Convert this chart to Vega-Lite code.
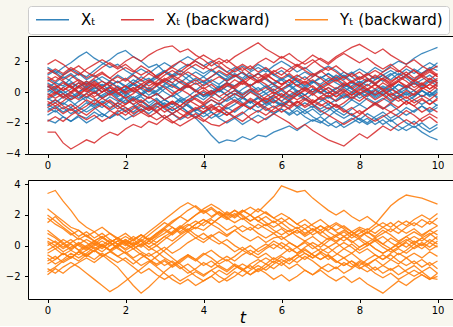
{
"$schema":"https://vega.github.io/schema/vega-lite/v6.json",
"background":"#f8f7ef",
"padding":{"left":4,"top":5,"right":0,"bottom":0},
"spacing":7,
"config":{
 "view":{"fill":"white","stroke":"black","strokeWidth":1},
 "axis":{"domain":false,"grid":false,"tickColor":"black","tickSize":3.5,"tickWidth":1,"labelFont":"DejaVu Sans","labelFontSize":10,"labelColor":"black","titleFont":"DejaVu Sans","titleColor":"black"},
 "axisX":{"labelPadding":3},
 "axisY":{"labelPadding":4.5}
},
"datasets":{
"top":[
{"s":"b1","g":"Xₜ","t":[0,0.2,0.4,0.6,0.8,1,1.2,1.4,1.6,1.8,2,2.2,2.4,2.6,2.8,3,3.2,3.4,3.6,3.8,4,4.2,4.4,4.6,4.8,5,5.2,5.4,5.6,5.8,6,6.2,6.4,6.6,6.8,7,7.2,7.4,7.6,7.8,8,8.2,8.4,8.6,8.8,9,9.2,9.4,9.6,9.8,10],"v":[1.5,1.2,1.6,1.9,2.3,2.6,2.2,1.9,1.6,1.8,1.4,1.1,0.7,0.9,0.5,0.8,0.6,0.2,0.4,0.1,-0.3,-0.1,0.3,0.6,0.4,0.8,1.1,0.7,0.9,0.5,0.2,0.5,0.1,-0.2,0.2,0.0,-0.4,-0.1,0.3,0.6,0.4,0.8,0.5,0.9,1.2,0.8,1.1,1.5,1.2,1.6,1.4]},
{"s":"b2","g":"Xₜ","t":[0,0.2,0.4,0.6,0.8,1,1.2,1.4,1.6,1.8,2,2.2,2.4,2.6,2.8,3,3.2,3.4,3.6,3.8,4,4.2,4.4,4.6,4.8,5,5.2,5.4,5.6,5.8,6,6.2,6.4,6.6,6.8,7,7.2,7.4,7.6,7.8,8,8.2,8.4,8.6,8.8,9,9.2,9.4,9.6,9.8,10],"v":[0.3,0.6,0.4,0.9,1.2,1.0,1.4,1.8,2.1,2.5,2.7,2.3,2.0,1.6,1.8,1.3,1.0,1.2,0.8,0.5,0.7,0.3,0.0,0.4,0.2,-0.2,0.1,-0.3,-0.6,-0.2,0.1,0.4,0.0,0.3,0.7,0.5,0.9,0.6,0.3,0.0,-0.4,-0.1,0.2,-0.2,0.1,0.5,0.3,0.7,0.4,0.8,0.6]},
{"s":"b3","g":"Xₜ","t":[0,0.2,0.4,0.6,0.8,1,1.2,1.4,1.6,1.8,2,2.2,2.4,2.6,2.8,3,3.2,3.4,3.6,3.8,4,4.2,4.4,4.6,4.8,5,5.2,5.4,5.6,5.8,6,6.2,6.4,6.6,6.8,7,7.2,7.4,7.6,7.8,8,8.2,8.4,8.6,8.8,9,9.2,9.4,9.6,9.8,10],"v":[-0.5,-0.2,0.1,-0.3,0.0,0.3,0.0,-0.4,-0.1,0.2,-0.2,-0.5,-0.3,-0.7,-0.4,-0.9,-1.2,-0.9,-1.3,-1.7,-2.2,-2.8,-3.3,-3.1,-3.2,-2.9,-3.1,-2.8,-2.9,-2.6,-2.4,-2.2,-2.5,-2.1,-1.8,-2.0,-1.6,-1.2,-1.5,-1.1,-0.8,-1.1,-0.7,-0.4,-0.7,-0.3,0.0,-0.3,0.1,-0.2,0.2]},
{"s":"b4","g":"Xₜ","t":[0,0.2,0.4,0.6,0.8,1,1.2,1.4,1.6,1.8,2,2.2,2.4,2.6,2.8,3,3.2,3.4,3.6,3.8,4,4.2,4.4,4.6,4.8,5,5.2,5.4,5.6,5.8,6,6.2,6.4,6.6,6.8,7,7.2,7.4,7.6,7.8,8,8.2,8.4,8.6,8.8,9,9.2,9.4,9.6,9.8,10],"v":[-0.8,-1.1,-0.7,-1.0,-0.6,-0.3,-0.6,-0.2,0.1,-0.2,0.2,0.5,0.2,0.6,0.9,0.6,0.3,0.7,0.4,0.1,-0.3,0.0,0.4,0.1,-0.2,0.2,0.5,0.1,0.4,0.0,-0.3,0.1,0.5,0.2,0.6,1.0,0.7,1.1,0.8,1.2,1.5,1.2,1.6,1.3,1.7,2.0,1.8,2.2,2.5,2.7,2.9]},
{"s":"b5","g":"Xₜ","t":[0,0.2,0.4,0.6,0.8,1,1.2,1.4,1.6,1.8,2,2.2,2.4,2.6,2.8,3,3.2,3.4,3.6,3.8,4,4.2,4.4,4.6,4.8,5,5.2,5.4,5.6,5.8,6,6.2,6.4,6.6,6.8,7,7.2,7.4,7.6,7.8,8,8.2,8.4,8.6,8.8,9,9.2,9.4,9.6,9.8,10],"v":[0.9,0.6,1.0,0.7,0.3,0.6,0.2,0.5,0.1,-0.3,0.0,-0.4,-0.1,0.3,0.0,0.4,0.1,-0.3,-0.6,-0.2,-0.5,-0.1,0.2,-0.2,0.1,-0.3,-0.7,-0.4,-0.8,-0.5,-0.9,-0.6,-1.0,-1.4,-1.1,-1.5,-1.2,-0.8,-1.1,-1.5,-1.8,-1.4,-1.7,-2.1,-1.8,-2.2,-2.5,-2.2,-2.6,-2.9,-3.1]},
{"s":"b6","g":"Xₜ","t":[0,0.2,0.4,0.6,0.8,1,1.2,1.4,1.6,1.8,2,2.2,2.4,2.6,2.8,3,3.2,3.4,3.6,3.8,4,4.2,4.4,4.6,4.8,5,5.2,5.4,5.6,5.8,6,6.2,6.4,6.6,6.8,7,7.2,7.4,7.6,7.8,8,8.2,8.4,8.6,8.8,9,9.2,9.4,9.6,9.8,10],"v":[-1.8,-2.0,-1.6,-1.9,-1.5,-1.7,-1.3,-1.6,-1.2,-0.9,-1.3,-1.0,-0.6,-0.9,-0.5,-0.8,-1.2,-0.9,-1.3,-1.6,-1.3,-1.7,-1.4,-1.0,-1.3,-0.9,-0.6,-1.0,-0.7,-0.3,-0.6,-0.2,0.1,-0.2,0.2,-0.1,0.3,0.0,-0.4,-0.1,0.3,0.0,-0.4,-0.1,-0.5,-0.2,-0.6,-0.3,0.1,-0.2,0.1]},
{"s":"b7","g":"Xₜ","t":[0,0.2,0.4,0.6,0.8,1,1.2,1.4,1.6,1.8,2,2.2,2.4,2.6,2.8,3,3.2,3.4,3.6,3.8,4,4.2,4.4,4.6,4.8,5,5.2,5.4,5.6,5.8,6,6.2,6.4,6.6,6.8,7,7.2,7.4,7.6,7.8,8,8.2,8.4,8.6,8.8,9,9.2,9.4,9.6,9.8,10],"v":[0.0,0.3,-0.1,0.2,0.6,0.3,0.7,1.0,0.7,1.1,0.8,1.2,1.5,1.2,1.6,1.9,1.6,2.0,2.3,2.0,1.7,2.0,1.6,1.3,1.6,1.2,0.9,1.2,0.8,0.5,0.8,0.4,0.7,0.3,0.0,0.3,-0.1,0.2,0.5,0.2,-0.2,0.1,-0.3,0.0,0.3,-0.1,0.2,0.6,0.3,0.7,0.4]},
{"s":"b8","g":"Xₜ","t":[0,0.2,0.4,0.6,0.8,1,1.2,1.4,1.6,1.8,2,2.2,2.4,2.6,2.8,3,3.2,3.4,3.6,3.8,4,4.2,4.4,4.6,4.8,5,5.2,5.4,5.6,5.8,6,6.2,6.4,6.6,6.8,7,7.2,7.4,7.6,7.8,8,8.2,8.4,8.6,8.8,9,9.2,9.4,9.6,9.8,10],"v":[-1.2,-0.9,-1.3,-1.0,-1.4,-1.1,-0.7,-1.0,-0.6,-0.9,-0.5,-0.8,-1.2,-0.9,-1.3,-1.7,-1.4,-1.8,-1.5,-1.1,-1.4,-1.0,-0.7,-1.1,-0.8,-0.4,-0.7,-0.3,-0.6,-1.0,-0.7,-1.1,-1.5,-1.2,-1.6,-1.9,-2.2,-1.9,-2.3,-2.0,-1.7,-2.0,-1.6,-1.3,-1.7,-1.4,-1.0,-1.3,-0.9,-1.2,-0.8]},
{"s":"b9","g":"Xₜ","t":[0,0.2,0.4,0.6,0.8,1,1.2,1.4,1.6,1.8,2,2.2,2.4,2.6,2.8,3,3.2,3.4,3.6,3.8,4,4.2,4.4,4.6,4.8,5,5.2,5.4,5.6,5.8,6,6.2,6.4,6.6,6.8,7,7.2,7.4,7.6,7.8,8,8.2,8.4,8.6,8.8,9,9.2,9.4,9.6,9.8,10],"v":[0.6,0.3,0.7,0.4,0.0,0.4,0.1,-0.3,0.0,0.4,0.1,0.5,0.2,-0.2,0.1,0.5,0.9,0.6,1.0,1.3,1.0,1.4,1.1,0.7,1.0,1.3,0.9,1.2,1.5,1.1,0.8,1.1,0.7,0.4,0.7,0.3,0.6,0.9,0.5,0.2,0.5,0.1,-0.2,0.1,-0.3,0.0,0.4,0.1,-0.3,0.0,-0.4]},
{"s":"b10","g":"Xₜ","t":[0,0.2,0.4,0.6,0.8,1,1.2,1.4,1.6,1.8,2,2.2,2.4,2.6,2.8,3,3.2,3.4,3.6,3.8,4,4.2,4.4,4.6,4.8,5,5.2,5.4,5.6,5.8,6,6.2,6.4,6.6,6.8,7,7.2,7.4,7.6,7.8,8,8.2,8.4,8.6,8.8,9,9.2,9.4,9.6,9.8,10],"v":[1.6,1.3,0.9,1.2,0.8,0.5,0.8,0.4,0.7,0.3,0.0,0.3,-0.1,-0.4,-0.1,-0.5,-0.8,-0.5,-0.9,-1.2,-0.9,-1.3,-1.6,-1.3,-1.7,-1.4,-1.0,-1.3,-0.9,-0.6,-0.9,-0.5,-0.2,-0.5,-0.1,0.2,-0.1,0.3,0.0,0.4,0.7,0.4,0.8,1.1,0.8,1.2,0.9,0.5,0.8,1.1,0.7]},
{"s":"b11","g":"Xₜ","t":[0,0.2,0.4,0.6,0.8,1,1.2,1.4,1.6,1.8,2,2.2,2.4,2.6,2.8,3,3.2,3.4,3.6,3.8,4,4.2,4.4,4.6,4.8,5,5.2,5.4,5.6,5.8,6,6.2,6.4,6.6,6.8,7,7.2,7.4,7.6,7.8,8,8.2,8.4,8.6,8.8,9,9.2,9.4,9.6,9.8,10],"v":[-0.2,0.2,-0.1,-0.5,-0.2,-0.6,-0.9,-0.6,-1.0,-0.7,-0.3,-0.6,-0.2,0.1,-0.2,0.2,0.5,0.2,0.6,0.9,0.6,1.0,1.3,1.0,1.4,1.7,1.4,1.8,1.5,1.1,1.4,1.0,0.7,1.0,0.6,0.9,1.2,0.9,1.3,1.0,0.6,0.9,0.5,0.2,0.5,0.1,-0.2,0.1,-0.3,0.0,-0.3]},
{"s":"b12","g":"Xₜ","t":[0,0.2,0.4,0.6,0.8,1,1.2,1.4,1.6,1.8,2,2.2,2.4,2.6,2.8,3,3.2,3.4,3.6,3.8,4,4.2,4.4,4.6,4.8,5,5.2,5.4,5.6,5.8,6,6.2,6.4,6.6,6.8,7,7.2,7.4,7.6,7.8,8,8.2,8.4,8.6,8.8,9,9.2,9.4,9.6,9.8,10],"v":[-1.5,-1.2,-1.6,-1.9,-1.6,-2.0,-1.7,-1.4,-1.7,-1.3,-1.0,-1.3,-0.9,-1.2,-0.8,-0.5,-0.8,-0.4,-0.7,-0.3,0.0,-0.3,0.1,-0.2,-0.6,-0.3,-0.7,-0.4,-0.1,-0.5,-0.8,-0.5,-0.9,-1.2,-0.9,-1.3,-1.0,-1.4,-1.7,-1.4,-1.8,-2.1,-1.8,-1.5,-1.9,-1.6,-2.0,-2.3,-2.0,-2.4,-2.1]},
{"s":"b13","g":"Xₜ","t":[0,0.2,0.4,0.6,0.8,1,1.2,1.4,1.6,1.8,2,2.2,2.4,2.6,2.8,3,3.2,3.4,3.6,3.8,4,4.2,4.4,4.6,4.8,5,5.2,5.4,5.6,5.8,6,6.2,6.4,6.6,6.8,7,7.2,7.4,7.6,7.8,8,8.2,8.4,8.6,8.8,9,9.2,9.4,9.6,9.8,10],"v":[0.4,0.1,-0.3,0.0,-0.4,-0.1,0.3,0.0,0.4,0.7,0.4,0.8,0.5,0.1,0.4,0.0,-0.3,0.0,0.4,0.1,0.5,0.8,0.5,0.9,1.2,0.9,1.3,1.6,1.3,1.7,2.0,1.7,1.3,1.6,1.2,0.9,1.2,0.8,1.1,0.7,0.4,0.7,1.0,0.7,1.1,1.4,1.1,0.8,1.2,1.5,1.9]},
{"s":"b14","g":"Xₜ","t":[0,0.2,0.4,0.6,0.8,1,1.2,1.4,1.6,1.8,2,2.2,2.4,2.6,2.8,3,3.2,3.4,3.6,3.8,4,4.2,4.4,4.6,4.8,5,5.2,5.4,5.6,5.8,6,6.2,6.4,6.6,6.8,7,7.2,7.4,7.6,7.8,8,8.2,8.4,8.6,8.8,9,9.2,9.4,9.6,9.8,10],"v":[-0.9,-0.5,-0.8,-0.4,-0.1,-0.4,0.0,0.3,0.0,-0.4,-0.7,-0.3,-0.6,-1.0,-0.7,-1.1,-1.4,-1.1,-0.8,-1.2,-0.9,-0.5,-0.8,-0.5,-0.1,-0.4,0.0,0.3,-0.1,0.2,-0.2,-0.5,-0.1,-0.4,-0.8,-1.1,-0.8,-1.2,-0.9,-0.5,-0.8,-0.4,-0.7,-1.1,-0.8,-1.2,-1.5,-1.2,-0.9,-1.3,-1.0]},
{"s":"b15","g":"Xₜ","t":[0,0.2,0.4,0.6,0.8,1,1.2,1.4,1.6,1.8,2,2.2,2.4,2.6,2.8,3,3.2,3.4,3.6,3.8,4,4.2,4.4,4.6,4.8,5,5.2,5.4,5.6,5.8,6,6.2,6.4,6.6,6.8,7,7.2,7.4,7.6,7.8,8,8.2,8.4,8.6,8.8,9,9.2,9.4,9.6,9.8,10],"v":[1.1,1.4,1.1,1.5,1.2,0.8,1.1,0.7,0.4,0.7,0.3,0.6,1.0,0.7,1.1,1.4,1.1,1.5,1.8,1.5,1.2,1.5,1.1,0.8,1.1,0.7,0.4,0.7,0.3,0.6,0.9,0.6,1.0,1.3,1.0,1.4,1.7,1.4,1.0,1.3,0.9,1.2,0.8,1.1,1.4,1.1,1.5,1.2,1.6,1.9,1.6]},
{"s":"b16","g":"Xₜ","t":[0,0.2,0.4,0.6,0.8,1,1.2,1.4,1.6,1.8,2,2.2,2.4,2.6,2.8,3,3.2,3.4,3.6,3.8,4,4.2,4.4,4.6,4.8,5,5.2,5.4,5.6,5.8,6,6.2,6.4,6.6,6.8,7,7.2,7.4,7.6,7.8,8,8.2,8.4,8.6,8.8,9,9.2,9.4,9.6,9.8,10],"v":[-0.4,-0.7,-0.3,-0.6,-1.0,-1.3,-1.0,-1.4,-1.7,-1.4,-1.8,-1.5,-1.1,-1.4,-1.0,-0.7,-1.0,-0.6,-0.9,-1.3,-1.6,-1.3,-1.7,-2.0,-1.7,-2.1,-1.8,-1.5,-1.8,-1.4,-1.1,-1.4,-1.0,-0.7,-1.0,-0.6,-0.3,-0.6,-0.2,-0.5,-0.1,0.2,-0.1,0.3,0.0,-0.4,-0.1,-0.5,-0.8,-0.5,-0.9]},
{"s":"b17","g":"Xₜ","t":[0,0.2,0.4,0.6,0.8,1,1.2,1.4,1.6,1.8,2,2.2,2.4,2.6,2.8,3,3.2,3.4,3.6,3.8,4,4.2,4.4,4.6,4.8,5,5.2,5.4,5.6,5.8,6,6.2,6.4,6.6,6.8,7,7.2,7.4,7.6,7.8,8,8.2,8.4,8.6,8.8,9,9.2,9.4,9.6,9.8,10],"v":[0.2,-0.1,0.3,0.6,0.3,0.7,0.4,0.0,0.3,-0.1,0.2,0.6,0.3,0.7,1.0,1.3,1.0,1.4,1.1,0.7,1.0,0.6,0.3,0.6,0.2,-0.1,0.2,-0.2,0.1,0.4,0.1,-0.3,0.0,-0.4,-0.7,-0.4,-0.8,-0.5,-0.1,-0.4,0.0,-0.3,0.1,0.4,0.1,0.5,0.2,-0.2,0.1,-0.3,0.0]},
{"s":"b18","g":"Xₜ","t":[0,0.2,0.4,0.6,0.8,1,1.2,1.4,1.6,1.8,2,2.2,2.4,2.6,2.8,3,3.2,3.4,3.6,3.8,4,4.2,4.4,4.6,4.8,5,5.2,5.4,5.6,5.8,6,6.2,6.4,6.6,6.8,7,7.2,7.4,7.6,7.8,8,8.2,8.4,8.6,8.8,9,9.2,9.4,9.6,9.8,10],"v":[-1.0,-1.3,-1.0,-1.4,-1.1,-0.7,-1.0,-0.7,-0.3,-0.6,-0.2,0.1,-0.2,0.2,-0.1,-0.5,-0.2,-0.6,-0.3,0.1,-0.2,0.1,-0.3,-0.6,-0.3,-0.7,-1.0,-0.7,-1.1,-1.4,-1.1,-1.5,-1.2,-1.6,-1.9,-1.6,-2.0,-2.3,-2.0,-1.7,-2.0,-1.7,-2.1,-1.8,-2.2,-2.5,-2.2,-1.9,-2.3,-2.6,-2.3]},
{"s":"r1","g":"Xₜ (backward)","t":[0,0.2,0.4,0.6,0.8,1,1.2,1.4,1.6,1.8,2,2.2,2.4,2.6,2.8,3,3.2,3.4,3.6,3.8,4,4.2,4.4,4.6,4.8,5,5.2,5.4,5.6,5.8,6,6.2,6.4,6.6,6.8,7,7.2,7.4,7.6,7.8,8,8.2,8.4,8.6,8.8,9,9.2,9.4,9.6,9.8,10],"v":[-2.6,-2.6,-3.3,-3.7,-3.4,-3.1,-3.3,-2.9,-2.6,-2.8,-2.4,-2.1,-2.3,-1.9,-2.1,-1.7,-1.4,-1.7,-1.3,-1.0,-1.3,-0.9,-1.2,-0.8,-0.5,-0.8,-0.4,-0.7,-0.3,0.0,-0.3,0.1,-0.2,0.2,-0.1,-0.5,-0.2,-0.6,-0.3,0.0,0.4,0.1,0.5,0.2,-0.2,0.1,0.4,0.1,0.5,0.2,0.6]},
{"s":"r2","g":"Xₜ (backward)","t":[0,0.2,0.4,0.6,0.8,1,1.2,1.4,1.6,1.8,2,2.2,2.4,2.6,2.8,3,3.2,3.4,3.6,3.8,4,4.2,4.4,4.6,4.8,5,5.2,5.4,5.6,5.8,6,6.2,6.4,6.6,6.8,7,7.2,7.4,7.6,7.8,8,8.2,8.4,8.6,8.8,9,9.2,9.4,9.6,9.8,10],"v":[1.2,1.5,1.2,1.6,1.3,0.9,1.2,1.6,1.9,1.6,2.0,2.3,2.0,2.4,2.7,2.9,3.0,2.6,2.8,2.4,2.1,1.7,2.0,1.6,1.3,1.6,1.2,0.9,1.2,0.8,0.5,0.8,0.4,0.7,0.3,0.0,0.3,-0.1,0.2,-0.2,0.1,0.5,0.2,0.6,0.3,0.7,1.0,0.7,1.1,0.8,1.2]},
{"s":"r3","g":"Xₜ (backward)","t":[0,0.2,0.4,0.6,0.8,1,1.2,1.4,1.6,1.8,2,2.2,2.4,2.6,2.8,3,3.2,3.4,3.6,3.8,4,4.2,4.4,4.6,4.8,5,5.2,5.4,5.6,5.8,6,6.2,6.4,6.6,6.8,7,7.2,7.4,7.6,7.8,8,8.2,8.4,8.6,8.8,9,9.2,9.4,9.6,9.8,10],"v":[0.5,0.2,0.6,0.3,-0.1,0.2,0.6,0.3,0.7,1.0,0.7,1.1,0.8,0.4,0.7,1.1,1.4,1.1,1.5,1.8,1.5,1.9,2.2,1.9,2.3,2.6,2.9,3.2,2.8,2.5,2.2,2.5,2.1,1.8,2.1,1.7,1.4,1.7,1.3,1.0,1.3,0.9,0.6,0.9,0.5,0.8,1.1,0.7,1.0,0.6,0.9]},
{"s":"r4","g":"Xₜ (backward)","t":[0,0.2,0.4,0.6,0.8,1,1.2,1.4,1.6,1.8,2,2.2,2.4,2.6,2.8,3,3.2,3.4,3.6,3.8,4,4.2,4.4,4.6,4.8,5,5.2,5.4,5.6,5.8,6,6.2,6.4,6.6,6.8,7,7.2,7.4,7.6,7.8,8,8.2,8.4,8.6,8.8,9,9.2,9.4,9.6,9.8,10],"v":[-0.3,0.0,-0.4,-0.1,0.3,0.0,0.4,0.7,0.4,0.1,0.4,0.0,0.3,0.7,0.4,0.8,1.1,0.8,0.5,0.8,0.4,0.7,1.0,0.7,1.1,0.8,0.4,0.7,1.0,1.4,1.1,1.5,1.8,1.5,1.9,2.2,1.9,2.3,2.6,2.9,3.1,2.8,2.5,2.8,2.4,2.1,1.8,2.1,1.7,1.4,1.7]},
{"s":"r5","g":"Xₜ (backward)","t":[0,0.2,0.4,0.6,0.8,1,1.2,1.4,1.6,1.8,2,2.2,2.4,2.6,2.8,3,3.2,3.4,3.6,3.8,4,4.2,4.4,4.6,4.8,5,5.2,5.4,5.6,5.8,6,6.2,6.4,6.6,6.8,7,7.2,7.4,7.6,7.8,8,8.2,8.4,8.6,8.8,9,9.2,9.4,9.6,9.8,10],"v":[-0.8,-0.5,-0.9,-1.2,-0.9,-0.5,-0.8,-0.4,-0.7,-1.1,-0.8,-0.4,-0.7,-0.3,-0.6,-1.0,-0.7,-1.1,-1.4,-1.1,-0.8,-1.2,-0.9,-1.3,-1.6,-1.3,-1.7,-2.0,-1.7,-1.4,-1.7,-2.0,-2.4,-2.1,-2.5,-2.8,-3.1,-3.3,-3.5,-3.1,-2.7,-3.0,-2.6,-2.2,-2.5,-2.1,-1.8,-2.1,-1.7,-1.4,-1.7]},
{"s":"r6","g":"Xₜ (backward)","t":[0,0.2,0.4,0.6,0.8,1,1.2,1.4,1.6,1.8,2,2.2,2.4,2.6,2.8,3,3.2,3.4,3.6,3.8,4,4.2,4.4,4.6,4.8,5,5.2,5.4,5.6,5.8,6,6.2,6.4,6.6,6.8,7,7.2,7.4,7.6,7.8,8,8.2,8.4,8.6,8.8,9,9.2,9.4,9.6,9.8,10],"v":[0.8,0.5,0.1,0.4,0.0,-0.3,0.0,-0.4,-0.1,-0.5,-0.8,-0.5,-0.9,-1.2,-0.9,-1.3,-1.0,-1.4,-1.7,-1.4,-1.8,-2.1,-2.2,-1.9,-1.6,-1.9,-1.5,-1.2,-1.5,-1.1,-0.8,-1.1,-0.7,-0.4,-0.7,-0.3,0.0,-0.3,0.1,-0.2,0.2,-0.1,-0.5,-0.2,-0.6,-0.3,0.1,-0.2,0.2,0.5,0.2]},
{"s":"r7","g":"Xₜ (backward)","t":[0,0.2,0.4,0.6,0.8,1,1.2,1.4,1.6,1.8,2,2.2,2.4,2.6,2.8,3,3.2,3.4,3.6,3.8,4,4.2,4.4,4.6,4.8,5,5.2,5.4,5.6,5.8,6,6.2,6.4,6.6,6.8,7,7.2,7.4,7.6,7.8,8,8.2,8.4,8.6,8.8,9,9.2,9.4,9.6,9.8,10],"v":[1.8,2.1,1.8,1.4,1.7,1.3,1.0,1.3,0.9,0.6,0.9,0.5,0.8,1.2,0.9,1.3,1.6,1.3,1.7,2.0,1.7,1.4,1.7,1.3,1.0,1.3,0.9,0.6,0.9,0.5,0.2,0.5,0.9,0.6,1.0,1.3,1.6,1.3,0.9,1.2,0.8,1.1,1.4,1.1,0.7,1.0,1.3,0.9,1.2,1.5,1.1]},
{"s":"r8","g":"Xₜ (backward)","t":[0,0.2,0.4,0.6,0.8,1,1.2,1.4,1.6,1.8,2,2.2,2.4,2.6,2.8,3,3.2,3.4,3.6,3.8,4,4.2,4.4,4.6,4.8,5,5.2,5.4,5.6,5.8,6,6.2,6.4,6.6,6.8,7,7.2,7.4,7.6,7.8,8,8.2,8.4,8.6,8.8,9,9.2,9.4,9.6,9.8,10],"v":[-1.3,-1.0,-1.4,-1.1,-1.5,-1.8,-1.5,-1.9,-1.6,-1.2,-1.5,-1.1,-0.8,-1.1,-0.7,-1.0,-1.4,-1.1,-0.7,-0.4,-0.7,-0.3,-0.6,-0.2,0.1,-0.2,0.2,-0.1,-0.5,-0.2,-0.6,-0.9,-0.6,-1.0,-0.7,-0.3,-0.6,-0.9,-1.3,-1.0,-1.4,-1.1,-0.7,-1.0,-1.3,-1.0,-0.6,-0.9,-0.5,-0.8,-0.4]},
{"s":"r9","g":"Xₜ (backward)","t":[0,0.2,0.4,0.6,0.8,1,1.2,1.4,1.6,1.8,2,2.2,2.4,2.6,2.8,3,3.2,3.4,3.6,3.8,4,4.2,4.4,4.6,4.8,5,5.2,5.4,5.6,5.8,6,6.2,6.4,6.6,6.8,7,7.2,7.4,7.6,7.8,8,8.2,8.4,8.6,8.8,9,9.2,9.4,9.6,9.8,10],"v":[0.1,0.4,0.1,0.5,0.8,0.5,0.9,1.2,0.9,1.3,1.6,1.3,1.7,1.4,1.0,1.3,1.7,2.0,1.7,2.1,2.4,2.1,1.8,2.1,1.7,1.4,1.7,1.3,1.6,1.2,0.9,1.2,0.8,0.5,0.8,0.4,0.7,1.0,0.7,0.3,0.6,0.2,0.5,0.9,0.6,1.0,0.7,0.3,0.6,0.2,0.5]},
{"s":"r10","g":"Xₜ (backward)","t":[0,0.2,0.4,0.6,0.8,1,1.2,1.4,1.6,1.8,2,2.2,2.4,2.6,2.8,3,3.2,3.4,3.6,3.8,4,4.2,4.4,4.6,4.8,5,5.2,5.4,5.6,5.8,6,6.2,6.4,6.6,6.8,7,7.2,7.4,7.6,7.8,8,8.2,8.4,8.6,8.8,9,9.2,9.4,9.6,9.8,10],"v":[-0.6,-0.9,-0.6,-0.2,-0.5,-0.1,-0.4,-0.8,-0.5,-0.9,-1.2,-0.9,-1.3,-1.6,-1.3,-1.7,-2.0,-1.7,-1.4,-1.7,-1.3,-1.0,-1.3,-0.9,-0.6,-0.9,-0.5,-0.8,-1.2,-0.9,-1.3,-1.0,-0.6,-0.9,-0.5,-0.8,-1.1,-0.8,-1.2,-1.5,-1.2,-1.6,-1.9,-1.6,-1.3,-1.6,-1.2,-1.5,-1.9,-1.6,-2.0]},
{"s":"r11","g":"Xₜ (backward)","t":[0,0.2,0.4,0.6,0.8,1,1.2,1.4,1.6,1.8,2,2.2,2.4,2.6,2.8,3,3.2,3.4,3.6,3.8,4,4.2,4.4,4.6,4.8,5,5.2,5.4,5.6,5.8,6,6.2,6.4,6.6,6.8,7,7.2,7.4,7.6,7.8,8,8.2,8.4,8.6,8.8,9,9.2,9.4,9.6,9.8,10],"v":[0.4,0.0,-0.3,0.0,0.4,0.1,-0.3,0.0,0.3,0.0,-0.4,-0.1,0.3,0.0,0.4,0.7,0.4,0.1,0.4,0.0,0.3,-0.1,0.2,0.6,0.3,0.7,1.0,0.7,1.1,0.8,0.5,0.8,0.4,0.1,0.4,0.0,-0.3,0.0,0.4,0.7,0.4,0.8,0.5,0.1,0.4,0.7,0.4,0.8,0.5,0.9,0.6]},
{"s":"r12","g":"Xₜ (backward)","t":[0,0.2,0.4,0.6,0.8,1,1.2,1.4,1.6,1.8,2,2.2,2.4,2.6,2.8,3,3.2,3.4,3.6,3.8,4,4.2,4.4,4.6,4.8,5,5.2,5.4,5.6,5.8,6,6.2,6.4,6.6,6.8,7,7.2,7.4,7.6,7.8,8,8.2,8.4,8.6,8.8,9,9.2,9.4,9.6,9.8,10],"v":[-1.9,-1.6,-1.9,-1.5,-1.2,-1.5,-1.1,-0.8,-1.1,-0.7,-1.0,-1.4,-1.1,-1.5,-1.8,-1.5,-1.9,-2.2,-1.9,-1.6,-1.9,-1.5,-1.2,-1.5,-1.1,-0.8,-1.1,-0.7,-0.4,-0.7,-0.3,-0.6,-0.2,0.1,-0.2,0.2,0.5,0.2,0.6,0.3,-0.1,0.2,-0.2,0.1,-0.3,-0.6,-0.3,-0.7,-0.4,-0.8,-0.5]},
{"s":"r13","g":"Xₜ (backward)","t":[0,0.2,0.4,0.6,0.8,1,1.2,1.4,1.6,1.8,2,2.2,2.4,2.6,2.8,3,3.2,3.4,3.6,3.8,4,4.2,4.4,4.6,4.8,5,5.2,5.4,5.6,5.8,6,6.2,6.4,6.6,6.8,7,7.2,7.4,7.6,7.8,8,8.2,8.4,8.6,8.8,9,9.2,9.4,9.6,9.8,10],"v":[1.0,0.7,1.1,1.4,1.1,1.5,1.8,2.1,1.8,1.5,1.8,1.4,1.1,1.4,1.0,0.7,1.0,0.6,0.3,0.6,0.2,0.5,0.1,0.4,0.8,0.5,0.9,1.2,0.9,1.3,1.6,1.3,1.7,1.4,1.1,1.4,1.0,0.7,1.0,0.6,0.9,1.2,0.9,1.3,1.6,1.3,1.7,1.4,1.1,1.4,1.0]},
{"s":"r14","g":"Xₜ (backward)","t":[0,0.2,0.4,0.6,0.8,1,1.2,1.4,1.6,1.8,2,2.2,2.4,2.6,2.8,3,3.2,3.4,3.6,3.8,4,4.2,4.4,4.6,4.8,5,5.2,5.4,5.6,5.8,6,6.2,6.4,6.6,6.8,7,7.2,7.4,7.6,7.8,8,8.2,8.4,8.6,8.8,9,9.2,9.4,9.6,9.8,10],"v":[-0.1,-0.4,-0.1,-0.5,-0.2,0.2,-0.1,0.3,0.6,0.3,0.0,0.3,-0.1,-0.4,-0.1,-0.5,-0.2,0.2,-0.1,-0.5,-0.8,-0.5,-0.8,-0.4,-0.1,-0.4,0.0,-0.3,-0.7,-0.4,-0.1,-0.4,0.0,0.3,0.0,0.4,0.1,-0.3,0.0,-0.4,-0.1,-0.5,-0.8,-0.5,-0.1,-0.4,-0.8,-0.5,-0.2,-0.5,-0.1]},
{"s":"r15","g":"Xₜ (backward)","t":[0,0.2,0.4,0.6,0.8,1,1.2,1.4,1.6,1.8,2,2.2,2.4,2.6,2.8,3,3.2,3.4,3.6,3.8,4,4.2,4.4,4.6,4.8,5,5.2,5.4,5.6,5.8,6,6.2,6.4,6.6,6.8,7,7.2,7.4,7.6,7.8,8,8.2,8.4,8.6,8.8,9,9.2,9.4,9.6,9.8,10],"v":[0.7,1.0,0.7,0.3,0.6,0.2,0.5,0.2,-0.2,0.1,0.4,0.1,0.5,0.8,0.5,0.9,0.6,1.0,1.3,1.0,0.7,1.0,1.4,1.1,1.5,1.8,1.5,1.9,2.2,1.9,2.3,2.0,1.7,2.0,2.4,2.1,1.8,2.2,2.5,2.2,1.9,2.2,1.8,1.5,1.8,1.4,1.1,1.4,1.0,1.3,1.0]},
{"s":"r16","g":"Xₜ (backward)","t":[0,0.2,0.4,0.6,0.8,1,1.2,1.4,1.6,1.8,2,2.2,2.4,2.6,2.8,3,3.2,3.4,3.6,3.8,4,4.2,4.4,4.6,4.8,5,5.2,5.4,5.6,5.8,6,6.2,6.4,6.6,6.8,7,7.2,7.4,7.6,7.8,8,8.2,8.4,8.6,8.8,9,9.2,9.4,9.6,9.8,10],"v":[-1.0,-0.7,-1.1,-0.8,-1.2,-0.9,-0.5,-0.8,-1.2,-1.5,-1.2,-1.6,-1.3,-1.0,-1.3,-0.9,-0.6,-0.9,-0.5,-0.8,-1.1,-0.8,-1.2,-1.5,-1.2,-0.8,-1.1,-0.7,-1.0,-1.3,-1.0,-0.6,-0.9,-0.5,-0.8,-1.2,-1.5,-1.8,-2.1,-1.8,-1.5,-1.1,-0.8,-1.1,-0.7,-1.0,-0.6,-0.9,-1.3,-1.0,-1.3]},
{"s":"r17","g":"Xₜ (backward)","t":[0,0.2,0.4,0.6,0.8,1,1.2,1.4,1.6,1.8,2,2.2,2.4,2.6,2.8,3,3.2,3.4,3.6,3.8,4,4.2,4.4,4.6,4.8,5,5.2,5.4,5.6,5.8,6,6.2,6.4,6.6,6.8,7,7.2,7.4,7.6,7.8,8,8.2,8.4,8.6,8.8,9,9.2,9.4,9.6,9.8,10],"v":[1.5,1.2,0.8,1.1,0.7,0.4,0.7,0.3,0.0,0.3,-0.1,0.2,0.5,0.2,0.6,0.3,-0.1,0.2,0.5,0.1,-0.2,0.1,-0.3,0.0,0.4,0.7,0.4,0.8,0.5,0.1,0.4,0.8,1.1,0.8,1.2,0.9,0.5,0.8,0.4,0.7,1.0,0.7,1.1,0.8,0.4,0.7,0.3,0.6,0.2,0.5,0.8]},
{"s":"r18","g":"Xₜ (backward)","t":[0,0.2,0.4,0.6,0.8,1,1.2,1.4,1.6,1.8,2,2.2,2.4,2.6,2.8,3,3.2,3.4,3.6,3.8,4,4.2,4.4,4.6,4.8,5,5.2,5.4,5.6,5.8,6,6.2,6.4,6.6,6.8,7,7.2,7.4,7.6,7.8,8,8.2,8.4,8.6,8.8,9,9.2,9.4,9.6,9.8,10],"v":[-0.4,-0.1,0.3,0.0,0.4,0.7,0.4,0.0,0.3,-0.1,-0.4,-0.8,-0.5,-0.9,-1.2,-0.9,-0.6,-0.9,-0.5,-0.2,0.1,-0.2,0.2,0.5,0.2,0.6,0.3,0.0,0.3,-0.1,0.2,-0.2,-0.5,-0.2,-0.6,-0.9,-0.6,-1.0,-0.7,-0.3,-0.6,-0.2,0.1,-0.2,0.2,-0.1,-0.4,-0.1,0.3,0.0,0.4]}
],
"bot":[
{"s":"o1","g":"Yₜ (backward)","t":[0,0.2,0.4,0.6,0.8,1,1.2,1.4,1.6,1.8,2,2.2,2.4,2.6,2.8,3,3.2,3.4,3.6,3.8,4,4.2,4.4,4.6,4.8,5,5.2,5.4,5.6,5.8,6,6.2,6.4,6.6,6.8,7,7.2,7.4,7.6,7.8,8,8.2,8.4,8.6,8.8,9,9.2,9.4,9.6,9.8,10],"v":[3.4,3.6,2.9,2.3,1.6,1.2,0.9,1.2,0.8,0.5,0.8,0.4,0.7,0.3,0.6,1.0,0.7,1.1,1.4,1.1,1.5,1.8,2.2,1.9,2.3,2.0,1.6,1.9,1.5,1.2,1.5,1.1,0.8,1.1,0.7,1.0,0.6,0.3,0.6,0.2,0.5,0.9,0.6,1.0,0.7,0.3,0.6,0.2,0.5,0.8,0.4]},
{"s":"o2","g":"Yₜ (backward)","t":[0,0.2,0.4,0.6,0.8,1,1.2,1.4,1.6,1.8,2,2.2,2.4,2.6,2.8,3,3.2,3.4,3.6,3.8,4,4.2,4.4,4.6,4.8,5,5.2,5.4,5.6,5.8,6,6.2,6.4,6.6,6.8,7,7.2,7.4,7.6,7.8,8,8.2,8.4,8.6,8.8,9,9.2,9.4,9.6,9.8,10],"v":[2.4,2.0,1.6,1.2,1.0,0.6,0.9,0.5,0.8,0.4,0.1,0.4,0.0,0.3,0.7,1.1,1.5,1.9,2.3,2.6,2.2,2.5,2.1,1.8,2.1,1.7,2.0,1.6,1.3,1.6,1.2,0.9,1.2,0.8,1.1,0.7,0.4,0.7,1.0,0.7,1.1,0.8,1.2,1.5,1.2,1.6,1.3,1.7,2.0,1.7,2.1]},
{"s":"o3","g":"Yₜ (backward)","t":[0,0.2,0.4,0.6,0.8,1,1.2,1.4,1.6,1.8,2,2.2,2.4,2.6,2.8,3,3.2,3.4,3.6,3.8,4,4.2,4.4,4.6,4.8,5,5.2,5.4,5.6,5.8,6,6.2,6.4,6.6,6.8,7,7.2,7.4,7.6,7.8,8,8.2,8.4,8.6,8.8,9,9.2,9.4,9.6,9.8,10],"v":[1.8,1.4,1.1,0.7,1.0,0.6,0.3,0.6,0.2,0.5,0.2,-0.2,0.1,0.5,0.2,0.6,0.9,1.3,1.0,1.4,1.7,1.4,1.8,2.1,1.8,2.2,2.5,2.2,2.7,3.2,3.9,3.7,3.5,3.6,3.1,2.7,2.3,2.0,2.3,1.9,1.6,1.9,1.5,1.2,1.5,1.1,0.8,1.1,0.7,1.0,0.7]},
{"s":"o4","g":"Yₜ (backward)","t":[0,0.2,0.4,0.6,0.8,1,1.2,1.4,1.6,1.8,2,2.2,2.4,2.6,2.8,3,3.2,3.4,3.6,3.8,4,4.2,4.4,4.6,4.8,5,5.2,5.4,5.6,5.8,6,6.2,6.4,6.6,6.8,7,7.2,7.4,7.6,7.8,8,8.2,8.4,8.6,8.8,9,9.2,9.4,9.6,9.8,10],"v":[0.5,0.2,-0.2,0.1,-0.3,0.0,0.3,0.0,0.4,0.1,-0.3,0.0,0.4,0.1,0.5,0.8,1.2,0.9,1.3,1.6,1.3,1.7,1.4,1.0,1.3,0.9,1.2,0.8,0.5,0.8,0.4,0.7,1.0,0.7,1.1,0.8,1.2,1.5,1.2,0.9,1.2,1.0,1.4,2.0,2.6,3.0,3.3,3.2,3.1,2.9,2.7]},
{"s":"o5","g":"Yₜ (backward)","t":[0,0.2,0.4,0.6,0.8,1,1.2,1.4,1.6,1.8,2,2.2,2.4,2.6,2.8,3,3.2,3.4,3.6,3.8,4,4.2,4.4,4.6,4.8,5,5.2,5.4,5.6,5.8,6,6.2,6.4,6.6,6.8,7,7.2,7.4,7.6,7.8,8,8.2,8.4,8.6,8.8,9,9.2,9.4,9.6,9.8,10],"v":[-0.6,-0.9,-0.5,-0.8,-0.4,-0.1,-0.4,0.0,-0.3,-0.7,-0.4,-0.8,-0.5,-0.9,-1.2,-0.9,-1.3,-1.0,-0.6,-0.9,-1.3,-1.0,-1.4,-1.7,-1.3,-1.6,-1.2,-0.9,-1.2,-0.8,-1.1,-1.5,-1.2,-1.6,-1.9,-1.6,-2.0,-2.3,-2.0,-2.4,-2.1,-2.5,-2.8,-3.1,-2.7,-2.3,-2.6,-2.2,-1.9,-2.2,-1.8]},
{"s":"o6","g":"Yₜ (backward)","t":[0,0.2,0.4,0.6,0.8,1,1.2,1.4,1.6,1.8,2,2.2,2.4,2.6,2.8,3,3.2,3.4,3.6,3.8,4,4.2,4.4,4.6,4.8,5,5.2,5.4,5.6,5.8,6,6.2,6.4,6.6,6.8,7,7.2,7.4,7.6,7.8,8,8.2,8.4,8.6,8.8,9,9.2,9.4,9.6,9.8,10],"v":[-1.5,-1.8,-1.4,-1.1,-1.4,-1.8,-2.2,-2.6,-3.0,-2.7,-2.3,-1.9,-1.5,-1.1,-0.7,-0.3,0.1,0.5,0.9,1.2,1.0,1.4,1.1,0.7,1.0,0.6,0.3,0.6,0.2,0.5,0.6,0.2,-0.1,0.2,-0.2,0.1,0.5,0.2,0.6,0.3,-0.1,0.2,-0.2,-0.5,-0.2,-0.6,-0.3,0.1,-0.2,0.2,-0.1]},
{"s":"o7","g":"Yₜ (backward)","t":[0,0.2,0.4,0.6,0.8,1,1.2,1.4,1.6,1.8,2,2.2,2.4,2.6,2.8,3,3.2,3.4,3.6,3.8,4,4.2,4.4,4.6,4.8,5,5.2,5.4,5.6,5.8,6,6.2,6.4,6.6,6.8,7,7.2,7.4,7.6,7.8,8,8.2,8.4,8.6,8.8,9,9.2,9.4,9.6,9.8,10],"v":[-1.0,-0.7,-1.1,-0.8,-0.4,-0.7,-0.3,-0.6,-1.0,-1.4,-2.0,-2.6,-3.1,-2.7,-2.2,-1.7,-1.3,-0.9,-0.6,-0.9,-0.5,-0.8,-1.2,-0.9,-1.3,-1.6,-1.3,-1.7,-1.4,-1.0,-1.3,-0.9,-0.6,-0.9,-0.5,-0.2,-0.5,-0.1,0.2,-0.1,-0.5,-0.2,-0.6,-0.9,-0.6,-1.0,-1.3,-1.0,-1.4,-1.1,-1.5]},
{"s":"o8","g":"Yₜ (backward)","t":[0,0.2,0.4,0.6,0.8,1,1.2,1.4,1.6,1.8,2,2.2,2.4,2.6,2.8,3,3.2,3.4,3.6,3.8,4,4.2,4.4,4.6,4.8,5,5.2,5.4,5.6,5.8,6,6.2,6.4,6.6,6.8,7,7.2,7.4,7.6,7.8,8,8.2,8.4,8.6,8.8,9,9.2,9.4,9.6,9.8,10],"v":[0.0,0.3,-0.1,0.2,0.5,0.2,-0.2,0.1,-0.3,0.0,0.4,0.1,0.5,0.9,1.3,1.7,2.1,2.5,2.8,2.5,2.1,2.4,2.0,1.7,2.0,2.3,2.0,2.4,2.1,1.8,2.1,1.8,1.4,1.7,1.3,1.0,1.3,0.9,0.6,0.9,0.5,0.2,0.5,0.1,-0.2,0.1,0.4,0.1,0.5,0.2,0.6]},
{"s":"o9","g":"Yₜ (backward)","t":[0,0.2,0.4,0.6,0.8,1,1.2,1.4,1.6,1.8,2,2.2,2.4,2.6,2.8,3,3.2,3.4,3.6,3.8,4,4.2,4.4,4.6,4.8,5,5.2,5.4,5.6,5.8,6,6.2,6.4,6.6,6.8,7,7.2,7.4,7.6,7.8,8,8.2,8.4,8.6,8.8,9,9.2,9.4,9.6,9.8,10],"v":[-1.9,-1.5,-1.8,-1.4,-1.1,-0.8,-1.1,-0.7,-0.4,-0.7,-1.0,-1.4,-1.8,-1.5,-1.9,-2.2,-1.9,-2.3,-2.0,-1.7,-2.0,-1.6,-1.3,-1.6,-1.2,-1.5,-1.9,-1.6,-1.2,-1.5,-1.1,-0.8,-1.1,-0.7,-1.0,-1.4,-1.7,-1.4,-1.8,-1.5,-1.1,-1.4,-1.8,-2.1,-1.8,-2.2,-1.9,-1.6,-1.9,-2.2,-2.0]},
{"s":"o10","g":"Yₜ (backward)","t":[0,0.2,0.4,0.6,0.8,1,1.2,1.4,1.6,1.8,2,2.2,2.4,2.6,2.8,3,3.2,3.4,3.6,3.8,4,4.2,4.4,4.6,4.8,5,5.2,5.4,5.6,5.8,6,6.2,6.4,6.6,6.8,7,7.2,7.4,7.6,7.8,8,8.2,8.4,8.6,8.8,9,9.2,9.4,9.6,9.8,10],"v":[1.0,0.6,0.2,-0.2,0.1,-0.2,0.2,-0.1,0.2,0.5,0.2,0.6,0.3,-0.1,0.2,0.6,0.3,0.7,1.0,1.4,1.7,1.4,1.8,2.2,1.9,2.3,2.0,1.6,1.9,1.5,1.8,1.4,1.1,1.4,1.0,1.3,0.9,0.6,0.9,0.5,0.8,1.1,0.8,1.2,0.9,1.3,1.6,1.3,1.7,1.4,1.8]},
{"s":"o11","g":"Yₜ (backward)","t":[0,0.2,0.4,0.6,0.8,1,1.2,1.4,1.6,1.8,2,2.2,2.4,2.6,2.8,3,3.2,3.4,3.6,3.8,4,4.2,4.4,4.6,4.8,5,5.2,5.4,5.6,5.8,6,6.2,6.4,6.6,6.8,7,7.2,7.4,7.6,7.8,8,8.2,8.4,8.6,8.8,9,9.2,9.4,9.6,9.8,10],"v":[-0.3,0.0,-0.4,-0.1,0.2,-0.1,0.3,0.0,-0.3,0.0,0.3,0.0,-0.4,-0.7,-0.4,-0.8,-1.1,-1.5,-1.2,-1.6,-1.9,-1.6,-2.0,-2.3,-2.0,-1.6,-1.9,-1.5,-1.8,-2.2,-1.9,-2.3,-2.0,-1.6,-1.9,-1.5,-1.2,-1.5,-1.1,-1.4,-1.0,-1.3,-0.9,-0.6,-0.9,-0.5,-0.8,-1.2,-0.9,-1.3,-1.0]},
{"s":"o12","g":"Yₜ (backward)","t":[0,0.2,0.4,0.6,0.8,1,1.2,1.4,1.6,1.8,2,2.2,2.4,2.6,2.8,3,3.2,3.4,3.6,3.8,4,4.2,4.4,4.6,4.8,5,5.2,5.4,5.6,5.8,6,6.2,6.4,6.6,6.8,7,7.2,7.4,7.6,7.8,8,8.2,8.4,8.6,8.8,9,9.2,9.4,9.6,9.8,10],"v":[0.8,0.5,0.1,0.4,0.0,-0.3,0.0,0.3,0.0,0.3,0.6,0.3,0.7,0.4,0.8,1.1,0.8,1.2,0.9,0.5,0.8,0.4,0.1,0.4,0.0,-0.3,0.0,-0.4,-0.1,0.3,0.0,-0.4,-0.1,-0.5,-0.8,-0.5,-0.9,-0.6,-0.2,-0.5,-0.1,0.2,-0.2,-0.5,-0.2,0.2,-0.1,0.3,0.0,0.4,0.1]},
{"s":"o13","g":"Yₜ (backward)","t":[0,0.2,0.4,0.6,0.8,1,1.2,1.4,1.6,1.8,2,2.2,2.4,2.6,2.8,3,3.2,3.4,3.6,3.8,4,4.2,4.4,4.6,4.8,5,5.2,5.4,5.6,5.8,6,6.2,6.4,6.6,6.8,7,7.2,7.4,7.6,7.8,8,8.2,8.4,8.6,8.8,9,9.2,9.4,9.6,9.8,10],"v":[-1.2,-0.9,-0.5,-0.8,-0.4,-0.7,-0.3,0.0,-0.3,0.1,-0.2,0.2,-0.1,0.3,0.0,-0.4,-0.8,-1.2,-1.6,-2.0,-2.3,-2.0,-2.4,-2.1,-1.7,-2.0,-1.6,-1.3,-1.6,-1.2,-0.9,-1.2,-0.8,-0.5,-0.8,-0.4,-0.7,-1.1,-0.8,-1.2,-1.5,-1.2,-1.6,-1.3,-0.9,-1.2,-0.8,-0.5,-0.8,-0.4,-0.7]},
{"s":"o14","g":"Yₜ (backward)","t":[0,0.2,0.4,0.6,0.8,1,1.2,1.4,1.6,1.8,2,2.2,2.4,2.6,2.8,3,3.2,3.4,3.6,3.8,4,4.2,4.4,4.6,4.8,5,5.2,5.4,5.6,5.8,6,6.2,6.4,6.6,6.8,7,7.2,7.4,7.6,7.8,8,8.2,8.4,8.6,8.8,9,9.2,9.4,9.6,9.8,10],"v":[1.5,1.9,1.4,1.0,0.6,0.9,0.5,0.8,0.4,0.1,0.4,0.0,0.3,-0.1,-0.4,-0.1,-0.5,-0.2,0.2,0.5,0.2,0.6,0.9,0.6,1.0,1.3,1.0,1.4,1.1,0.8,1.1,0.7,1.0,0.6,0.9,1.3,1.0,1.4,1.1,0.7,1.0,0.6,0.3,0.6,0.2,-0.1,0.2,-0.2,0.1,-0.3,0.0]},
{"s":"o15","g":"Yₜ (backward)","t":[0,0.2,0.4,0.6,0.8,1,1.2,1.4,1.6,1.8,2,2.2,2.4,2.6,2.8,3,3.2,3.4,3.6,3.8,4,4.2,4.4,4.6,4.8,5,5.2,5.4,5.6,5.8,6,6.2,6.4,6.6,6.8,7,7.2,7.4,7.6,7.8,8,8.2,8.4,8.6,8.8,9,9.2,9.4,9.6,9.8,10],"v":[-0.8,-1.2,-0.9,-0.5,-0.8,-0.5,-0.1,-0.4,0.0,0.3,0.0,0.4,0.7,0.4,0.8,1.2,1.6,1.9,1.6,2.0,2.3,1.9,2.2,1.8,1.5,1.8,1.4,1.1,1.4,1.0,0.7,1.0,0.6,0.3,0.6,0.2,-0.1,0.2,-0.2,0.1,-0.3,0.0,0.4,0.1,0.5,0.2,0.6,0.9,0.6,1.0,1.3]},
{"s":"o16","g":"Yₜ (backward)","t":[0,0.2,0.4,0.6,0.8,1,1.2,1.4,1.6,1.8,2,2.2,2.4,2.6,2.8,3,3.2,3.4,3.6,3.8,4,4.2,4.4,4.6,4.8,5,5.2,5.4,5.6,5.8,6,6.2,6.4,6.6,6.8,7,7.2,7.4,7.6,7.8,8,8.2,8.4,8.6,8.8,9,9.2,9.4,9.6,9.8,10],"v":[0.3,0.0,0.4,0.1,-0.3,-0.6,-0.3,-0.7,-0.4,-0.1,-0.5,-0.2,-0.6,-0.9,-1.3,-1.0,-1.4,-1.1,-0.7,-1.0,-0.6,-0.3,-0.7,-1.0,-0.7,-0.3,-0.6,-0.2,0.1,-0.2,0.2,-0.1,-0.5,-0.2,-0.6,-0.9,-0.6,-1.0,-1.3,-1.0,-1.4,-1.7,-1.4,-1.8,-1.5,-1.9,-1.6,-1.3,-1.7,-1.4,-1.8]},
{"s":"o17","g":"Yₜ (backward)","t":[0,0.2,0.4,0.6,0.8,1,1.2,1.4,1.6,1.8,2,2.2,2.4,2.6,2.8,3,3.2,3.4,3.6,3.8,4,4.2,4.4,4.6,4.8,5,5.2,5.4,5.6,5.8,6,6.2,6.4,6.6,6.8,7,7.2,7.4,7.6,7.8,8,8.2,8.4,8.6,8.8,9,9.2,9.4,9.6,9.8,10],"v":[2.0,1.6,1.2,0.8,0.4,0.7,0.3,0.6,0.2,0.5,0.1,-0.2,0.1,-0.3,0.0,0.4,0.8,1.2,1.6,2.0,2.4,2.7,2.4,2.0,2.3,1.9,1.6,1.9,2.2,1.8,1.5,1.8,1.4,1.1,1.4,1.7,1.3,1.0,1.3,0.9,0.6,0.9,0.5,0.8,1.1,0.8,1.2,1.5,1.2,1.6,1.3]},
{"s":"o18","g":"Yₜ (backward)","t":[0,0.2,0.4,0.6,0.8,1,1.2,1.4,1.6,1.8,2,2.2,2.4,2.6,2.8,3,3.2,3.4,3.6,3.8,4,4.2,4.4,4.6,4.8,5,5.2,5.4,5.6,5.8,6,6.2,6.4,6.6,6.8,7,7.2,7.4,7.6,7.8,8,8.2,8.4,8.6,8.8,9,9.2,9.4,9.6,9.8,10],"v":[-1.7,-1.4,-1.0,-0.7,-1.0,-0.6,-0.9,-0.5,-0.8,-1.1,-0.8,-1.2,-0.8,-0.5,-0.9,-1.3,-1.0,-1.4,-1.8,-1.5,-1.1,-1.4,-1.0,-0.7,-1.0,-0.6,-0.3,-0.6,-0.2,0.1,-0.2,0.2,-0.1,0.3,0.0,-0.4,-0.1,-0.5,-0.8,-0.5,-0.9,-1.2,-0.9,-1.3,-1.6,-1.3,-1.7,-2.0,-1.7,-2.1,-2.2]},
{"s":"o19","g":"Yₜ (backward)","t":[0,0.2,0.4,0.6,0.8,1,1.2,1.4,1.6,1.8,2,2.2,2.4,2.6,2.8,3,3.2,3.4,3.6,3.8,4,4.2,4.4,4.6,4.8,5,5.2,5.4,5.6,5.8,6,6.2,6.4,6.6,6.8,7,7.2,7.4,7.6,7.8,8,8.2,8.4,8.6,8.8,9,9.2,9.4,9.6,9.8,10],"v":[0.2,-0.2,0.1,-0.3,-0.6,-0.3,0.1,-0.2,0.2,-0.1,0.3,0.0,0.3,0.7,1.1,1.5,1.2,0.8,1.1,0.7,0.4,0.7,0.3,0.0,-0.4,-0.1,-0.5,-0.8,-0.5,-0.9,-0.6,-0.2,-0.5,-0.1,0.2,-0.1,0.3,0.6,0.3,0.7,0.4,0.0,0.3,-0.1,-0.4,-0.1,0.3,0.6,0.3,0.7,1.0]},
{"s":"o20","g":"Yₜ (backward)","t":[0,0.2,0.4,0.6,0.8,1,1.2,1.4,1.6,1.8,2,2.2,2.4,2.6,2.8,3,3.2,3.4,3.6,3.8,4,4.2,4.4,4.6,4.8,5,5.2,5.4,5.6,5.8,6,6.2,6.4,6.6,6.8,7,7.2,7.4,7.6,7.8,8,8.2,8.4,8.6,8.8,9,9.2,9.4,9.6,9.8,10],"v":[-0.5,-0.2,-0.6,-0.3,0.1,0.4,0.1,0.5,0.2,-0.2,-0.5,-0.9,-1.3,-1.0,-1.4,-1.8,-2.2,-2.5,-2.2,-2.6,-2.3,-2.0,-1.6,-1.9,-1.5,-1.2,-1.5,-1.1,-0.8,-1.1,-0.7,-1.0,-0.6,-0.3,-0.6,-0.9,-0.6,-1.0,-1.3,-1.0,-1.3,-0.9,-0.6,-0.9,-0.5,-0.2,-0.5,-0.1,0.2,-0.1,0.3]}
]
},
"vconcat":[
{
 "width":429,"height":118,
 "data":{"name":"top"},
 "transform":[{"flatten":["t","v"]}],
 "encoding":{
  "x":{"field":"t","type":"quantitative","scale":{"domain":[-0.5,10.5],"nice":false,"zero":false},"axis":{"values":[0,2,4,6,8,10],"title":null}},
  "y":{"field":"v","type":"quantitative","scale":{"domain":[-4.02,3.64],"nice":false,"zero":false},"axis":{"values":[-4,-2,0,2],"title":null}},
  "color":{"field":"g","type":"nominal","scale":{"domain":["Xₜ","Xₜ (backward)","Yₜ (backward)"],"range":["#1f77b4","#d62728","#ff7f0e"]},
   "legend":{"orient":"none","legendX":0,"legendY":-30,"direction":"horizontal","columns":3,"title":null,"symbolType":"M-1,0H5","symbolSize":121,"symbolStrokeWidth":1.6,"symbolOpacity":1,"labelFont":"DejaVu Sans","labelFontSize":15,"labelColor":"black","labelOffset":32,"columnPadding":21,"padding":6,"fillColor":"white","strokeColor":"#cccccc","cornerRadius":3}},
  "detail":{"field":"s","type":"nominal"}
 },
 "layer":[
  {"transform":[{"filter":"datum.g == 'Xₜ'"}],"mark":{"type":"line","strokeWidth":1.3,"opacity":0.85,"clip":true}},
  {"transform":[{"filter":"datum.g != 'Xₜ'"}],"mark":{"type":"line","strokeWidth":1.3,"opacity":0.85,"clip":true}}
 ]
},
{
 "width":429,"height":119,
 "data":{"name":"bot"},
 "transform":[{"flatten":["t","v"]}],
 "mark":{"type":"line","strokeWidth":1.3,"opacity":0.9,"clip":true},
 "encoding":{
  "x":{"field":"t","type":"quantitative","scale":{"domain":[-0.5,10.5],"nice":false,"zero":false},"axis":{"values":[0,2,4,6,8,10],"title":"t","titleFontStyle":"italic","titleFontSize":16,"titleFontWeight":"normal","titlePadding":-6}},
  "y":{"field":"v","type":"quantitative","scale":{"domain":[-3.48,4.28],"nice":false,"zero":false},"axis":{"values":[-2,0,2,4],"title":null}},
  "color":{"field":"g","type":"nominal","scale":{"domain":["Xₜ","Xₜ (backward)","Yₜ (backward)"],"range":["#1f77b4","#d62728","#ff7f0e"]}},
  "detail":{"field":"s","type":"nominal"}
 }
}
]
}
